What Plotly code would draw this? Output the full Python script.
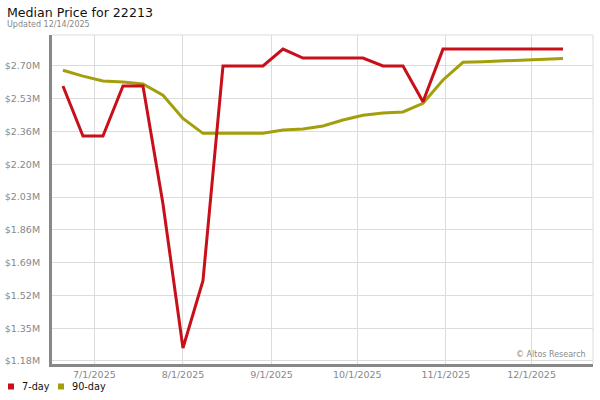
import plotly.graph_objects as go

dates = ["2025-06-20", "2025-06-27", "2025-07-04", "2025-07-11", "2025-07-18", "2025-07-25",
         "2025-08-01", "2025-08-08", "2025-08-15", "2025-08-22", "2025-08-29", "2025-09-05",
         "2025-09-12", "2025-09-19", "2025-09-26", "2025-10-03", "2025-10-10", "2025-10-17",
         "2025-10-24", "2025-10-31", "2025-11-07", "2025-11-14", "2025-11-21", "2025-11-28",
         "2025-12-05", "2025-12-12"]

price_7day = [2597000, 2339000, 2339000, 2597000, 2597000, 1990000,
              1247000, 1594000, 2700000, 2700000, 2700000, 2787000,
              2741000, 2741000, 2741000, 2741000, 2700000, 2700000,
              2516000, 2787000, 2787000, 2787000, 2787000, 2787000,
              2787000, 2787000]

price_90day = [2678000, 2648000, 2623000, 2617000, 2607000, 2549000,
               2430000, 2353000, 2353000, 2353000, 2353000, 2370000,
               2375000, 2391000, 2422000, 2446000, 2458000, 2463000,
               2508000, 2628000, 2719000, 2722000, 2726000, 2731000,
               2732000, 2739000]

series_names = ["7-day", "90-day"]

y_tick_labels = ["$1.18M", "$1.35M", "$1.52M", "$1.69M", "$1.86M",
                 "$2.03M", "$2.20M", "$2.36M", "$2.53M", "$2.70M"]
y_tick_vals = [1180000 + k * (1520000 / 9) for k in range(len(y_tick_labels))]

x_tick_vals = ["2025-07-01", "2025-08-01", "2025-09-01", "2025-10-01", "2025-11-01", "2025-12-01"]
x_tick_labels = ["7/1/2025", "8/1/2025", "9/1/2025", "10/1/2025", "11/1/2025", "12/1/2025"]

RED = "#c8101a"
OLIVE = "#a39e0b"
FONT = "DejaVu Sans"

W, H = 600, 400
ML, MR, MT, MB = 52, 7, 35, 36
PW, PH = W - ML - MR, H - MT - MB


def px_x(px):
    return (px - ML) / PW


def px_y(py):
    return (H - MB - py) / PH


fig = go.Figure()
fig.add_trace(go.Scatter(x=dates, y=price_90day, mode="lines", name=series_names[1],
                         line=dict(color=OLIVE, width=3), showlegend=False))
fig.add_trace(go.Scatter(x=dates, y=price_7day, mode="lines", name=series_names[0],
                         line=dict(color=RED, width=3), showlegend=False))

# custom legend (square swatch + label), placed below the x axis
legend_items = [(series_names[0], RED, 8), (series_names[1], OLIVE, 58)]
shapes = [
    dict(type="line", xref="paper", yref="paper", x0=0, x1=1, y0=1, y1=1,
         line=dict(color="#dcdcdc", width=1), layer="below"),
    dict(type="line", xref="paper", yref="paper", x0=1, x1=1, y0=0, y1=1,
         line=dict(color="#dcdcdc", width=1), layer="below"),
]
annotations = [
    dict(text="Median Price for 22213", xref="paper", yref="paper",
         x=px_x(5), y=px_y(3), xanchor="left", yanchor="top", showarrow=False,
         font=dict(family=FONT, size=12.6, color="#111")),
    dict(text="Updated 12/14/2025", xref="paper", yref="paper",
         x=px_x(5), y=px_y(18), xanchor="left", yanchor="top", showarrow=False,
         font=dict(family=FONT, size=8, color="#888")),
    dict(text="© Altos Research", xref="paper", yref="paper",
         x=0.99, y=0.01, xanchor="right", yanchor="bottom", showarrow=False,
         font=dict(family=FONT, size=8, color="#888")),
]
for name, color, left in legend_items:
    shapes.append(dict(type="rect", xref="paper", yref="paper",
                       x0=px_x(left), x1=px_x(left + 6), y0=px_y(389.5), y1=px_y(383.5),
                       fillcolor=color, line=dict(width=0)))
    annotations.append(dict(text=name, xref="paper", yref="paper",
                            x=px_x(left + 12), y=px_y(386.5), xanchor="left", yanchor="middle",
                            showarrow=False, font=dict(family=FONT, size=9.7, color="#111")))

fig.update_layout(
    width=W, height=H,
    margin=dict(l=ML, r=MR, t=MT, b=MB, autoexpand=False),
    paper_bgcolor="white", plot_bgcolor="white",
    font=dict(family=FONT, size=10, color="#222"),
    showlegend=False,
    xaxis=dict(
        type="date",
        range=["2025-06-16 04:00", "2025-12-22 12:00"],
        tickvals=x_tick_vals, ticktext=x_tick_labels,
        tickfont=dict(family=FONT, size=9.5, color="#888"),
        showgrid=True, gridcolor="#dcdcdc", gridwidth=1,
        showline=True, linecolor="#888", linewidth=3,
        ticks="", zeroline=False,
    ),
    yaxis=dict(
        range=[1164500, 2859700],
        tickvals=y_tick_vals, ticktext=y_tick_labels,
        tickfont=dict(family=FONT, size=9.5, color="#888"),
        showgrid=True, gridcolor="#dcdcdc", gridwidth=1,
        showline=True, linecolor="#888", linewidth=3,
        ticks="", zeroline=False, ticklabelstandoff=7,
    ),
    shapes=shapes,
    annotations=annotations,
)

fig.write_html("out.html", config={"displayModeBar": False},
               post_script="document.body.style.margin='0';")
